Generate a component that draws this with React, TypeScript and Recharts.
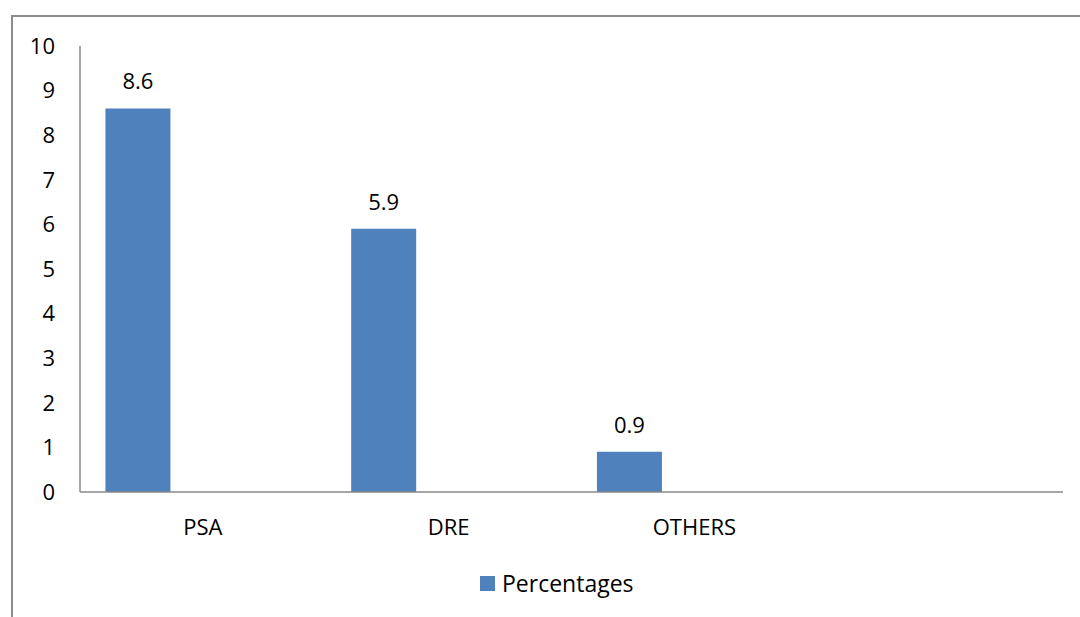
import React from "react";
import { ComposedChart, Bar, XAxis, YAxis, Legend, LabelList } from "recharts";

const categories = ["PSA", "DRE", "OTHERS", ""];
const percentages = [8.6, 5.9, 0.9, null];
const yTicks = [0, 1, 2, 3, 4, 5, 6, 7, 8, 9, 10];
const seriesName = "Percentages";

const data = categories.map((c, i) => ({ name: c, pct: percentages[i] }));

const FONT = "'Open Sans', sans-serif";
const BAR_COLOR = "#4F81BD";
const AXIS_COLOR = "#898989";

const LegendContent = () => (
  <div style={{ display: "flex", justifyContent: "flex-start", alignItems: "center", paddingLeft: 480, fontFamily: FONT, fontSize: 23, color: "#000" }}>
    <span style={{ display: "inline-block", width: 15, height: 15, background: BAR_COLOR, marginRight: 7 }} />
    <span>{seriesName}</span>
  </div>
);

export default function App() {
  return (
    <div style={{ position: "absolute", left: 0, top: 0, width: 1080, height: 617, background: "#fff", overflow: "hidden" }}>
      <div style={{ position: "absolute", left: 11, top: 15, width: 1200, height: 700, borderLeft: "2px solid #8c8c8c", borderTop: "2px solid #8c8c8c" }} />
      <div style={{ position: "absolute", left: 0, top: 0 }}>
        <ComposedChart width={1080} height={617} data={data} margin={{ top: 46, right: 17, left: 20, bottom: 95 }} barCategoryGap="10.35%" barGap={0}>
          <XAxis dataKey="name" height={30} tickLine={false} tickSize={0} tickMargin={27} stroke={AXIS_COLOR} strokeWidth={1.5}
            tick={{ fill: "#000", fontSize: 22, fontFamily: FONT }} interval={0} />
          <YAxis domain={[0, 10]} ticks={yTicks} width={60} tickLine={false} tickSize={0} tickMargin={25} stroke={AXIS_COLOR} strokeWidth={1.5}
            tick={{ fill: "#000", fontSize: 22, fontFamily: FONT }} interval={0} />
          <Legend layout="horizontal" verticalAlign="middle" align="center" content={<LegendContent />}
            wrapperStyle={{ top: 567, left: 0, width: 1080 }} />
          <Bar dataKey="pct" name={seriesName} fill={BAR_COLOR} isAnimationActive={false}>
            <LabelList dataKey="pct" position="top" offset={19} style={{ fill: "#000", fontSize: 22, fontFamily: FONT }} />
          </Bar>
          <Bar dataKey="s2" legendType="none" fill={BAR_COLOR} isAnimationActive={false} />
          <Bar dataKey="s3" legendType="none" fill={BAR_COLOR} isAnimationActive={false} />
        </ComposedChart>
      </div>
    </div>
  );
}
